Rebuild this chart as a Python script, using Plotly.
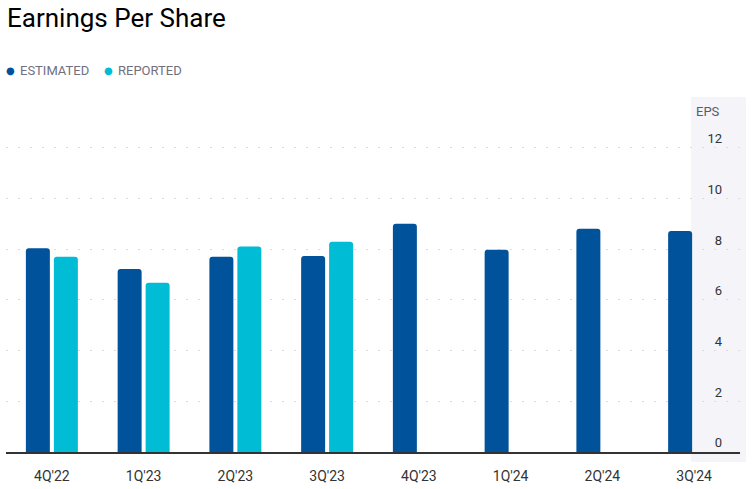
import plotly.graph_objects as go

quarters = ["4Q'22", "1Q'23", "2Q'23", "3Q'23", "4Q'23", "1Q'24", "2Q'24", "3Q'24"]
estimated = [8.04, 7.22, 7.70, 7.73, 9.00, 7.98, 8.80, 8.72]
reported = [7.70, 6.67, 8.10, 8.29, None, None, None, None]
y_ticks = [0, 2, 4, 6, 8, 10, 12]

EST_COLOR = "#00529B"
REP_COLOR = "#00BCD4"

fig = go.Figure()
fig.add_trace(go.Bar(x=quarters, y=estimated, name="ESTIMATED",
                     marker=dict(color=EST_COLOR, line=dict(width=0)), showlegend=False))
fig.add_trace(go.Bar(x=quarters, y=reported, name="REPORTED",
                     marker=dict(color=REP_COLOR, line=dict(width=0)), showlegend=False))

# shaded y-axis panel
fig.add_shape(type="rect", xref="paper", yref="paper",
              x0=(691 - 6) / 734, x1=(746 - 6) / 734, y0=-10 / 355, y1=1,
              fillcolor="#F4F4F9", line=dict(width=0), layer="below")

fig.update_layout(
    width=754, height=489,
    margin=dict(l=6, r=14, t=97, b=37),
    paper_bgcolor="white", plot_bgcolor="rgba(0,0,0,0)",
    barmode="group", bargap=0.39, bargroupgap=0.143, barcornerradius=3,
    font=dict(family="Roboto", size=12, color="#333333"),
    title=dict(text="Earnings Per Share", xref="container", yref="container",
               x=7 / 754, xanchor="left", y=1 - 18 / 489, yanchor="middle",
               font=dict(family="Roboto", size=26, color="#000000")),
    xaxis=dict(type="category", range=[-0.5, 7.5], showgrid=False,
               showline=True, linecolor="#333333", linewidth=1.5,
               ticks="", ticklabelstandoff=10,
               tickfont=dict(family="Roboto", size=14, color="#333333")),
    yaxis=dict(range=[0, 14], side="right", tickvals=y_ticks,
               showgrid=True, gridcolor="#DDDDDD", griddash="2px,10px", gridwidth=1,
               zeroline=False, showline=False, ticks="",
               ticklabelposition="inside top", ticklabelstandoff=15,
               tickfont=dict(family="Roboto", size=13, color="#333333")),
    showlegend=False,
)

# y-axis title
fig.add_annotation(text="EPS", xref="paper", yref="paper", x=(722 - 6) / 734, y=1 - 15 / 355,
                   xanchor="right", yanchor="middle", showarrow=False,
                   font=dict(family="Roboto", size=13, color="#5A5A6E"))

# legend
legend_items = [("ESTIMATED", EST_COLOR, 10), ("REPORTED", REP_COLOR, 108)]
for label, color, px in legend_items:
    fig.add_annotation(text="●", xref="paper", yref="paper",
                       x=(px - 6) / 734, y=1 + (97 - 70) / 355, xanchor="center", yanchor="middle",
                       showarrow=False, font=dict(family="DejaVu Sans", size=10, color=color))
    fig.add_annotation(text=label, xref="paper", yref="paper",
                       x=(px + 8 - 6) / 734, y=1 + (97 - 70) / 355, xanchor="left", yanchor="middle",
                       showarrow=False, font=dict(family="Roboto", size=13, color="#707080"))

fig.write_html("out.html", config={"displayModeBar": False},
               post_script="document.body.style.margin='0';")
